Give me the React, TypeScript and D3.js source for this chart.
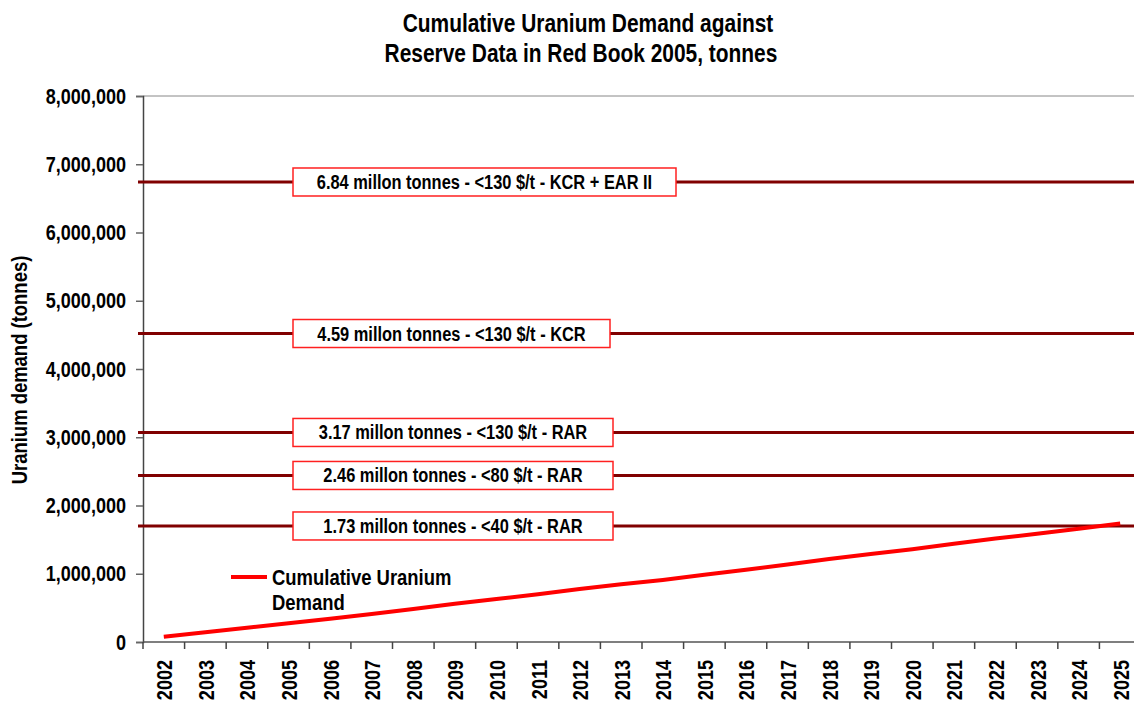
import React, { useEffect, useRef } from 'react';
import * as d3 from 'd3';

const years = [
  '2002', '2003', '2004', '2005', '2006', '2007', '2008', '2009', '2010', '2011', '2012', '2013',
  '2014', '2015', '2016', '2017', '2018', '2019', '2020', '2021', '2022', '2023', '2024', '2025'
];

// cumulative demand, tonnes
const demand = [
  78000, 143000, 210000, 275000, 340000, 410000, 485000, 560000, 630000, 700000, 775000, 845000,
  910000, 985000, 1060000, 1135000, 1215000, 1290000, 1360000, 1440000, 1515000, 1585000, 1660000, 1735000
];

// reserve levels as drawn in the chart, tonnes
const reserveLevels = [6740000, 4520000, 3070000, 2440000, 1700000];
const reserveLabels = [
  '6.84 millon tonnes - <130 $/t - KCR + EAR II',
  '4.59 millon tonnes - <130 $/t - KCR',
  '3.17 millon tonnes - <130 $/t - RAR',
  '2.46 millon tonnes - <80 $/t - RAR',
  '1.73 millon tonnes - <40 $/t - RAR'
];
const reserveBoxWidths = [383, 317, 320, 320, 320];

const yTicks = [0, 1000000, 2000000, 3000000, 4000000, 5000000, 6000000, 7000000, 8000000];

const titleLines = ['Cumulative Uranium Demand against', 'Reserve Data in Red Book 2005, tonnes'];

const W = 1134;
const H = 702;
const margins = { top: 96, left: 143, bottom: 60 };
const plotW = 998;
const plotH = 546;
const font = '"Liberation Sans", Arial, sans-serif';
// no narrow face installed, so squeeze the bold sans horizontally
const narrow = 0.82;

export default function App() {
  const ref = useRef<SVGSVGElement>(null);

  useEffect(() => {
    const svg = d3.select(ref.current);
    svg.selectAll('*').remove();

    const x = d3.scaleBand().domain(years).range([0, plotW]);
    const y = d3.scaleLinear().domain([0, 8000000]).range([plotH, 0]);

    svg.append('rect').attr('width', W).attr('height', H).attr('fill', '#fff');

    // title
    svg.append('g')
      .selectAll('text')
      .data(titleLines)
      .enter()
      .append('text')
      .attr('x', (d, i) => (i === 0 ? 588 : 581))
      .attr('y', (d, i) => 32 + i * 30)
      .attr('text-anchor', 'middle')
      .style('font-size', '25.5px')
      .text((d) => d);

    // y axis title
    svg.append('text')
      .attr('transform', `translate(27, 370) rotate(-90)`)
      .attr('text-anchor', 'middle')
      .style('font-size', '22.5px')
      .text('Uranium demand (tonnes)');

    const g = svg.append('g').attr('transform', `translate(${margins.left}, ${margins.top})`);

    // top border
    g.append('line')
      .attr('x1', 0).attr('x2', plotW)
      .attr('y1', 0).attr('y2', 0)
      .attr('stroke', '#888').attr('stroke-width', 1);

    // y axis
    const yAxis = d3.axisLeft(y)
      .tickValues(yTicks)
      .tickSize(7)
      .tickPadding(10)
      .tickFormat((d) => d3.format(',')(d as number));
    const ya = g.append('g').call(yAxis);
    ya.select('.domain').attr('stroke', '#444').attr('stroke-width', 1.5);
    ya.selectAll('.tick line').attr('stroke', '#666').attr('stroke-width', 1.5);
    ya.selectAll('.tick text')
      .style('font-size', '22px')
      .attr('fill', '#000');

    // x axis: ticks on band boundaries
    const xa = g.append('g').attr('transform', `translate(0, ${plotH})`);
    xa.append('line')
      .attr('x1', 0).attr('x2', plotW)
      .attr('stroke', '#555').attr('stroke-width', 1.5);
    xa.selectAll('.bound')
      .data(years.concat(['end']))
      .enter()
      .append('line')
      .attr('class', 'bound')
      .attr('x1', (d, i) => i * x.bandwidth())
      .attr('x2', (d, i) => i * x.bandwidth())
      .attr('y1', 0).attr('y2', 7)
      .attr('stroke', '#444').attr('stroke-width', 1.5);
    xa.selectAll('.yl')
      .data(years)
      .enter()
      .append('text')
      .attr('class', 'yl')
      .attr('transform', (d) => `translate(${(x(d) as number) + x.bandwidth() / 2 + 8.5}, 18) rotate(-90)`)
      .attr('text-anchor', 'end')
      .style('font-size', '22px')
      .text((d) => d);

    // reserve lines
    g.selectAll('.reserve')
      .data(reserveLevels)
      .enter()
      .append('line')
      .attr('class', 'reserve')
      .attr('x1', -5).attr('x2', W - margins.left)
      .attr('y1', (d) => y(d)).attr('y2', (d) => y(d))
      .attr('stroke', '#800000').attr('stroke-width', 3);

    const boxes = g.selectAll('.rbox')
      .data(reserveLevels)
      .enter()
      .append('g')
      .attr('class', 'rbox')
      .attr('transform', (d) => `translate(${293 - margins.left}, ${y(d)})`);
    boxes.append('rect')
      .attr('x', 0)
      .attr('y', -14)
      .attr('width', (d, i) => reserveBoxWidths[i])
      .attr('height', 28)
      .attr('fill', '#fff')
      .attr('stroke', '#ff2020')
      .attr('stroke-width', 1.5);
    boxes.append('text')
      .attr('x', (d, i) => reserveBoxWidths[i] / 2)
      .attr('y', 7)
      .attr('text-anchor', 'middle')
      .style('font-size', '20px')
      .text((d, i) => reserveLabels[i]);

    // demand line
    const line = d3.line<number>()
      .x((d, i) => (x(years[i]) as number) + x.bandwidth() / 2)
      .y((d) => y(d));
    g.append('path')
      .datum(demand)
      .attr('d', line)
      .attr('fill', 'none')
      .attr('stroke', '#ff0000')
      .attr('stroke-width', 4);

    // legend
    const lg = svg.append('g');
    lg.append('line')
      .attr('x1', 231).attr('x2', 267)
      .attr('y1', 577).attr('y2', 577)
      .attr('stroke', '#ff0000').attr('stroke-width', 4);
    lg.selectAll('text')
      .data(['Cumulative Uranium', 'Demand'])
      .enter()
      .append('text')
      .attr('x', 272)
      .attr('y', (d, i) => 585 + i * 25)
      .style('font-size', '22.5px')
      .text((d) => d);

    // common font + horizontal squeeze
    svg.selectAll<SVGTextElement, unknown>('text')
      .style('font-family', font)
      .style('font-weight', 'bold')
      .each(function () {
        const len = this.getComputedTextLength();
        d3.select(this)
          .attr('textLength', len * narrow)
          .attr('lengthAdjust', 'spacingAndGlyphs');
      });
  }, []);

  return (
    <div style={{ position: 'absolute', left: 0, top: 0 }}>
      <svg ref={ref} width={W} height={H} style={{ display: 'block' }} />
    </div>
  );
}
